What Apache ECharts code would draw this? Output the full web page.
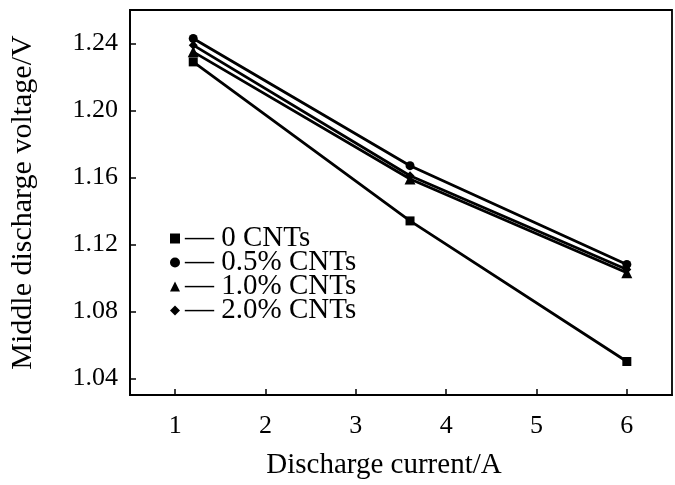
<!DOCTYPE html>
<html>
<head>
<meta charset="utf-8">
<script src="https://cdn.jsdelivr.net/npm/echarts@6/dist/echarts.min.js"></script>
<style>
  html, body { margin: 0; padding: 0; background: #fff; }
  #chart { width: 675px; height: 485px; }
</style>
</head>
<body>
<div id="chart"></div>
<script>
  // discharge current (A)
  let currents = [1.2, 3.6, 6];
  let seriesNames = ["0 CNTs", "0.5% CNTs", "1.0% CNTs", "2.0% CNTs"];
  let symbols = ["rect", "circle", "triangle", "diamond"];
  // middle discharge voltage (V)
  let v0 = [1.229, 1.134, 1.050];
  let v05 = [1.243, 1.167, 1.108];
  let v10 = [1.235, 1.159, 1.103];
  let v20 = [1.239, 1.161, 1.105];
  let xTicks = [1, 2, 3, 4, 5, 6];
  let yTicks = [1.04, 1.08, 1.12, 1.16, 1.20, 1.24];

  let values = [v0, v05, v10, v20];
  let font = "Liberation Serif";

  let chart = echarts.init(document.getElementById("chart"));

  let series = seriesNames.map(function(name, i) {
    return {
      name: name,
      type: "line",
      symbol: symbols[i],
      symbolSize: i == 2 ? 11 : 9,
      data: currents.map(function(x, j) { return [x, values[i][j]]; }),
      lineStyle: { color: "#000", width: 2.8 },
      itemStyle: { color: "#000" },
      animation: false
    };
  });

  let option = {
    backgroundColor: "#fff",
    grid: {
      left: 119, right: 3, top: 10, bottom: 72,
      show: true, borderColor: "#000", borderWidth: 1.8
    },
    legend: {
      orient: "vertical",
      left: 165,
      top: 219,
      itemGap: -5,
      itemWidth: 10,
      itemHeight: 10,
      data: seriesNames.map(function(n, i) { return { name: n, icon: symbols[i] }; }),
      formatter: function(name) { return "\u2014 " + name; },
      textStyle: { fontFamily: font, fontSize: 29, lineHeight: 25, color: "#000" }
    },
    xAxis: {
      type: "value",
      min: 0.5,
      max: 6.5,
      name: "Discharge current/A",
      nameLocation: "middle",
      nameGap: 56,
      nameTextStyle: { fontFamily: font, fontSize: 29, color: "#000", padding: [0, 34, 0, 0] },
      axisLine: { lineStyle: { color: "#000", width: 1.8 } },
      axisTick: { inside: true, length: 6, customValues: xTicks, lineStyle: { color: "#000", width: 1.5 } },
      axisLabel: { customValues: xTicks, fontFamily: font, fontSize: 26, color: "#000", margin: 18 },
      splitLine: { show: false }
    },
    yAxis: {
      type: "value",
      min: 1.03,
      max: 1.26,
      name: "Middle discharge voltage/V",
      nameLocation: "middle",
      nameGap: 92,
      nameTextStyle: { fontFamily: font, fontSize: 30, color: "#000" },
      axisLine: { lineStyle: { color: "#000", width: 1.8 } },
      axisTick: { inside: true, length: 6, customValues: yTicks, lineStyle: { color: "#000", width: 1.5 } },
      axisLabel: {
        customValues: yTicks, fontFamily: font, fontSize: 26, color: "#000", margin: 12,
        formatter: function(v) { return v.toFixed(2); }
      },
      splitLine: { show: false }
    },
    series: series
  };
  chart.setOption(option);
</script>
</body>
</html>
